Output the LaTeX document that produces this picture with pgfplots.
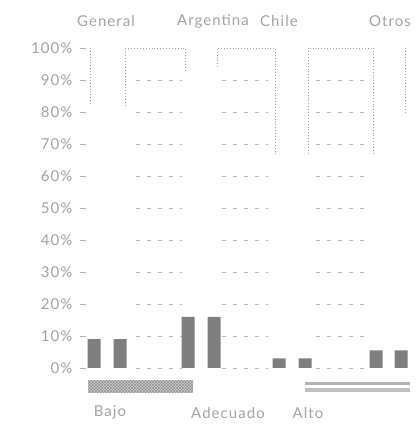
\documentclass[border=0pt]{standalone}
\usepackage{pgfplots}
\pgfplotsset{compat=1.18}
\usepackage{fontspec}
\setmainfont{Lato}[LetterSpace=7]
\usetikzlibrary{patterns}
\definecolor{txt}{HTML}{A2A2A2}
\definecolor{barc}{HTML}{7E7E7E}
\definecolor{dotc}{HTML}{A0A0A0}
\begin{document}
\begin{tikzpicture}
\path[use as bounding box] (0,0) rectangle (415pt,430pt);
\begin{axis}[
 at={(80pt,62pt)}, anchor=south west, scale only axis,
 width=332pt, height=320pt,
 xmin=80, xmax=412, ymin=0, ymax=100,
 clip=false,
 axis x line=none,
 axis y line*=left, y axis line style={draw=none},
 ytick={0,10,...,100},
 yticklabel={\pgfmathprintnumber{\tick}\%},
 /pgf/number format/assume math mode=true,
 ticklabel style={font=\fontsize{15}{17}\selectfont, text=txt},
 yticklabel style={xshift=-4pt},
 major tick length=6pt, tick align=inside,
 y tick style={draw=gray!60, line width=0.8pt},
 unbounded coords=jump,
]
% dashed grid segments
\pgfplotsinvokeforeach{0,10,20,30,40,50,60,70,80,90}{
 \addplot[gray!55, dash pattern=on 4pt off 7pt, line width=0.8pt, forget plot]
   coordinates {(136,#1) (182,#1) (200,nan) (222,#1) (268,#1) (290,nan) (316,#1) (367,#1)};
}
% bars
\addplot[ybar, bar width=13, bar shift=0pt, fill=barc, draw=none]
 coordinates {(94,9) (120,9) (188,16) (214,16) (279,3) (305,3) (376,5.5) (401,5.5)};
% dotted outlines
\addplot[dotc, dotted, line width=0.9pt] coordinates {(90,100) (90,82)};
\addplot[dotc, dotted, line width=0.9pt] coordinates {(125,82) (125,100) (185,100) (185,93)};
\addplot[dotc, dotted, line width=0.9pt] coordinates {(217,94) (217,100) (275,100) (275,67)};
\addplot[dotc, dotted, line width=0.9pt] coordinates {(308,67) (308,100) (373,100) (373,67)};
\addplot[dotc, dotted, line width=0.9pt] coordinates {(405,100) (405,80)};
% legend swatches
\addplot[fill=gray!40, draw=none] coordinates {(88,-3.8) (193,-3.8) (193,-7.8) (88,-7.8)} -- cycle;
\addplot[pattern=crosshatch, pattern color=gray!85, draw=none] coordinates {(88,-3.8) (193,-3.8) (193,-7.8) (88,-7.8)} -- cycle;
\addplot[fill=gray!60, draw=none] coordinates {(305,-4.3) (410,-4.3) (410,-5.3) (305,-5.3)} -- cycle;
\addplot[fill=gray!50, draw=none] coordinates {(305,-6.2) (410,-6.2) (410,-7.4) (305,-7.4)} -- cycle;
% labels
\node[font=\fontsize{15}{17}\selectfont, text=txt] at (axis cs:106,108.4) {General};
\node[font=\fontsize{15}{17}\selectfont, text=txt] at (axis cs:213,108.4) {Argentina};
\node[font=\fontsize{15}{17}\selectfont, text=txt] at (axis cs:279,108.4) {Chile};
\node[font=\fontsize{15}{17}\selectfont, text=txt] at (axis cs:390,108.4) {Otros};
\node[font=\fontsize{15}{17}\selectfont, text=txt] at (axis cs:110,-14) {Bajo};
\node[font=\fontsize{15}{17}\selectfont, text=txt] at (axis cs:228,-14) {Adecuado};
\node[font=\fontsize{15}{17}\selectfont, text=txt] at (axis cs:308,-14) {Alto};
\end{axis}
\end{tikzpicture}
\end{document}
